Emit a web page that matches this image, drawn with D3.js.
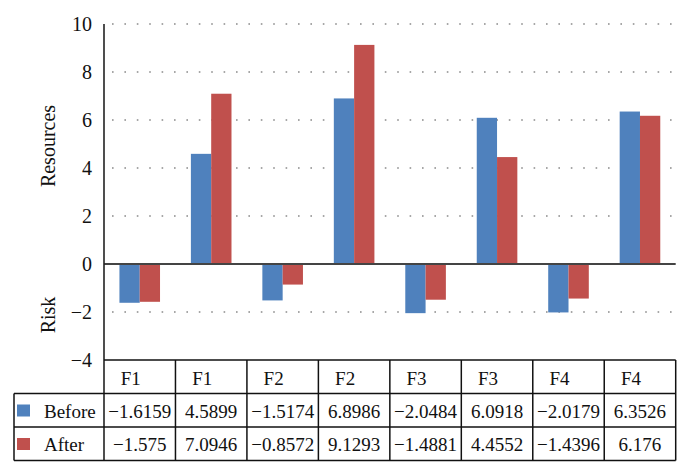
<!DOCTYPE html>
<html><head><meta charset="utf-8">
<script src="https://cdn.jsdelivr.net/npm/d3@7"></script>
<style>body{margin:0;background:#fff}svg{display:block}text{font-family:"Liberation Serif","Times New Roman",serif;fill:#111}</style>
</head><body>
<script>
const categories = ["F1","F1","F2","F2","F3","F3","F4","F4"];
const seriesNames = ["Before","After"];
const before = [-1.6159, 4.5899, -1.5174, 6.8986, -2.0484, 6.0918, -2.0179, 6.3526];
const after  = [-1.575, 7.0946, -0.8572, 9.1293, -1.4881, 4.4552, -1.4396, 6.176];
const beforeLabels = ["\u22121.6159","4.5899","\u22121.5174","6.8986","\u22122.0484","6.0918","\u22122.0179","6.3526"];
const afterLabels  = ["\u22121.575","7.0946","\u22120.8572","9.1293","\u22121.4881","4.4552","\u22121.4396","6.176"];
const yTicks = [-4,-2,0,2,4,6,8,10];
const colors = ["#4F81BD","#C0504D"];

const W = 689, H = 475;
const svg = d3.select("body").append("svg").attr("width", W).attr("height", H);
const left = 104, right = 675.7, top0 = 24, bottom = 360;
const tableLeft = 14;
const rowTops = [360, 393.5, 427, 460.5];

const x = d3.scaleBand().domain(d3.range(categories.length)).range([left, right]).paddingInner(0.432).paddingOuter(0.216);
const xs = d3.scaleBand().domain(seriesNames).range([0, x.bandwidth()]);
const y = d3.scaleLinear().domain([-4, 10]).range([bottom, top0]);
const colScale = d3.scaleBand().domain(d3.range(categories.length)).range([left, right]);

// grid
svg.append("g").selectAll("line").data(yTicks.filter(d => d !== 0 && d !== -4)).join("line")
  .attr("x1", left + 8).attr("x2", right).attr("y1", d => y(d)).attr("y2", d => y(d))
  .attr("stroke", "#8a8a8a").attr("stroke-width", 1.6).attr("stroke-dasharray", "1.6,10.8");

// bars
const data = [before, after];
const g = svg.append("g");
data.forEach((vals, si) => {
  g.selectAll(".b" + si).data(vals).join("rect")
    .attr("x", (d, i) => x(i) + xs(seriesNames[si]))
    .attr("width", xs.bandwidth())
    .attr("y", d => y(Math.max(0, d)))
    .attr("height", d => Math.abs(y(d) - y(0)))
    .attr("fill", colors[si]);
});

// zero line
svg.append("line").attr("x1", left).attr("x2", right).attr("y1", y(0)).attr("y2", y(0))
  .attr("stroke", "#444").attr("stroke-width", 2);
// y axis line
svg.append("line").attr("x1", left).attr("x2", left).attr("y1", y(10)).attr("y2", rowTops[3])
  .attr("stroke", "#222").attr("stroke-width", 1.6);

// y tick labels
svg.append("g").selectAll("text").data(yTicks).join("text")
  .attr("x", 92).attr("y", d => y(d)).attr("dy", "0.35em").attr("text-anchor", "end")
  .attr("font-size", 20).text(d => d < 0 ? "\u2212" + Math.abs(d) : d);

// axis titles
svg.append("text").attr("transform", "translate(55,146) rotate(-90)").attr("text-anchor", "middle")
  .attr("font-size", 20).text("Resources");
svg.append("text").attr("transform", "translate(55,315) rotate(-90)").attr("text-anchor", "middle")
  .attr("font-size", 20).text("Risk");

// table
const tg = svg.append("g").attr("stroke", "#111").attr("stroke-width", 1.5).attr("fill", "none");
tg.append("line").attr("x1", left).attr("x2", right).attr("y1", rowTops[0]).attr("y2", rowTops[0]);
[1,2,3].forEach(r => tg.append("line").attr("x1", tableLeft).attr("x2", right).attr("y1", rowTops[r]).attr("y2", rowTops[r]));
tg.append("line").attr("x1", tableLeft).attr("x2", tableLeft).attr("y1", rowTops[1]).attr("y2", rowTops[3]);
d3.range(categories.length).forEach(i => {
  const xr = colScale(i) + colScale.bandwidth();
  tg.append("line").attr("x1", xr).attr("x2", xr).attr("y1", rowTops[0]).attr("y2", rowTops[3]);
});

// header
svg.append("g").selectAll("text").data(categories).join("text")
  .attr("x", (d, i) => colScale(i) + colScale.bandwidth() / 2 - 9)
  .attr("y", rowTops[0] + 25).attr("text-anchor", "middle").attr("font-size", 19).text(d => d);
// values
[beforeLabels, afterLabels].forEach((labs, si) => {
  svg.append("g").selectAll("text").data(labs).join("text")
    .attr("x", (d, i) => colScale(i) + colScale.bandwidth() / 2)
    .attr("y", rowTops[si + 1] + 24).attr("text-anchor", "middle").attr("font-size", 19).text(d => d);
  svg.append("rect").attr("x", 17).attr("y", rowTops[si + 1] + 11).attr("width", 13).attr("height", 12).attr("fill", colors[si]);
  svg.append("text").attr("x", 44).attr("y", rowTops[si + 1] + 24).attr("font-size", 19).text(seriesNames[si]);
});
</script>
</body></html>
